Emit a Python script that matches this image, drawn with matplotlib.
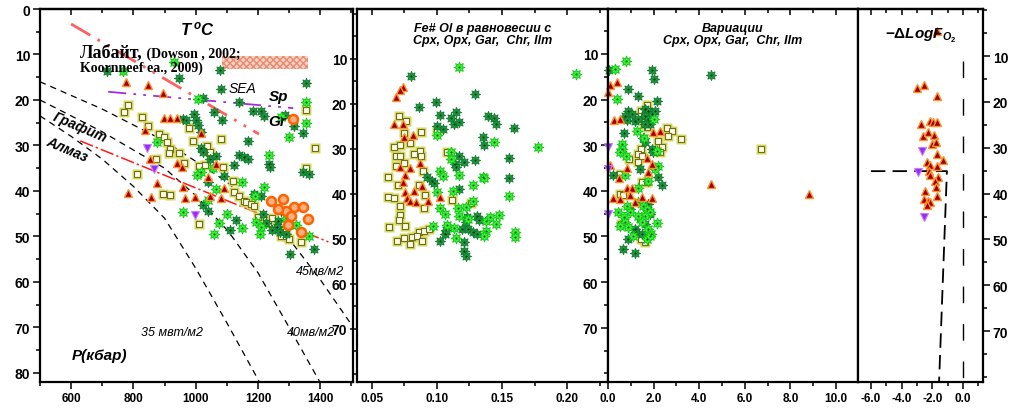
import matplotlib
matplotlib.use("Agg")
import matplotlib.pyplot as plt
import matplotlib.ticker as mticker
from matplotlib.patches import Rectangle

plt.rcParams["font.family"] = ["Liberation Sans", "DejaVu Sans"]
plt.rcParams["mathtext.fontset"] = "custom"
plt.rcParams["mathtext.it"] = "Liberation Sans:italic:bold"
plt.rcParams["mathtext.rm"] = "Liberation Sans:bold"
plt.rcParams["mathtext.bf"] = "Liberation Sans:bold"

# ---------------- panel 1: T (C) vs P (kbar) ----------------
t_dg = [945, 1077, 1081, 1139, 1022, 1058, 1084, 958, 968, 993, 1000, 1006, 1016, 716, 1184, 1210, 1219, 1287,
        1316, 1345, 1355, 1168, 1139, 1155, 1168, 1236, 1239, 1345, 1365, 1016, 1022, 1046, 1065, 1090, 1039,
        1123, 1187, 1210, 1110, 1129, 1265, 1260, 1245, 1270, 1290, 1303, 1381, 1022, 1040, 1215, 1225, 1300, 1275]
p_dg = [15.2, 13.4, 17.6, 20.4, 19.5, 22.6, 24.3, 24.2, 24.4, 23.0, 24.5, 25.6, 27.0, 13.6, 22.4, 22.4, 23.5, 23.4,
        25.7, 27.3, 16.3, 29.0, 32.0, 32.5, 33.0, 34.0, 34.7, 35.9, 36.3, 30.5, 31.5, 33.0, 32.3, 36.7, 38.0,
        34.3, 40.7, 41.0, 48.5, 46.4, 46.5, 48.0, 48.5, 49.0, 49.5, 53.8, 52.7, 43.0, 44.5, 45.0, 47.0, 47.0, 44.5]
t_bg = [929, 1006, 768, 1274, 1300, 1355, 1355, 877, 1236, 1016, 1055, 1065, 1150, 1219, 1190, 958, 1058, 1074,
        1148, 1195, 1210, 1205, 1365, 1322, 1290, 1100, 1005, 1040]
p_bg = [11.7, 19.8, 13.6, 23.7, 28.1, 20.5, 25.1, 29.3, 32.1, 35.9, 35.0, 39.6, 38.0, 39.2, 41.0, 44.7, 49.5, 47.0,
        48.1, 46.8, 48.0, 49.5, 50.0, 47.5, 46.0, 45.0, 36.5, 42.0]
t_sq = [781, 771, 829, 848, 881, 897, 907, 917, 913, 945, 978, 990, 961, 874, 810, 894, 919, 1010, 1081, 1036,
        1046, 1010, 1029, 1087, 1119, 1123, 1139, 1155, 1161, 1177, 1187, 1200, 1232, 1265, 1274, 1290, 1300,
        1339, 1355, 1384, 1355, 1245, 1280]
p_sq = [21.1, 22.7, 23.7, 25.7, 27.5, 28.2, 29.2, 30.8, 31.6, 31.6, 26.2, 29.0, 33.8, 33.0, 36.3, 40.7, 40.9,
        47.3, 28.6, 30.1, 31.4, 34.5, 34.3, 34.7, 37.8, 40.2, 41.1, 42.2, 42.4, 42.9, 43.3, 45.7, 47.0, 48.4,
        49.9, 49.9, 50.5, 51.2, 22.2, 30.5, 35.0, 46.0, 47.0]
t_tri = [777, 848, 894, 897, 916, 939, 836, 1016, 852, 939, 955, 1065, 1039, 877, 958, 1091, 784, 855, 965, 997,
         1045, 1080]
p_tri = [16.0, 16.7, 18.5, 24.0, 24.0, 24.0, 26.6, 27.3, 33.0, 33.9, 34.8, 34.1, 37.0, 38.2, 39.2, 39.4, 40.5,
         41.3, 41.5, 41.3, 41.0, 41.5]
t_inv = [842, 865, 997]
p_inv = [30.5, 35.2, 45.3]
t_circ = [1313, 1242, 1281, 1316, 1345, 1290, 1306, 1361, 1339, 1265, 1297]
p_circ = [24.2, 42.2, 41.8, 43.5, 43.5, 44.4, 45.5, 46.2, 49.0, 44.0, 47.5]

# geotherms and phase boundaries
geo35_t = [500, 600, 700, 800, 900, 1000, 1100, 1203]
geo35_p = [23.5, 28, 33, 39, 46, 57, 69, 81.8]
geo40_t = [500, 700, 900, 1000, 1106, 1200, 1300, 1397]
geo40_p = [20, 27, 35, 41, 49, 58, 70, 81.8]
geo45_t = [500, 700, 900, 1100, 1307, 1400, 1494]
geo45_p = [16, 22, 29, 38, 51.2, 59.5, 68.8]
gd_t = [629, 1426]          # graphite / diamond
gd_p = [29.0, 51.2]
spgr_t = [719, 1313]        # spinel / garnet
spgr_p = [18.2, 21.8]
sea_t = [600, 1203]
sea_p = [3.3, 27.5]

# ---------------- panel 2: Fe# Ol ----------------
f_dg = [0.080, 0.129, 0.086, 0.099, 0.102, 0.111, 0.115, 0.113, 0.117, 0.105, 0.100, 0.135, 0.136, 0.139, 0.144,
        0.145, 0.159, 0.129, 0.121, 0.114, 0.115, 0.117, 0.155, 0.155, 0.092, 0.096, 0.098, 0.117, 0.123, 0.122,
        0.131, 0.132, 0.119, 0.124, 0.128, 0.131, 0.102, 0.106, 0.107, 0.121, 0.121, 0.122]
fp_dg = [13.7, 17.8, 20.6, 19.6, 22.4, 23.1, 21.8, 24.4, 24.0, 25.5, 24.9, 27.3, 29.1, 22.6, 23.2, 24.4, 25.4,
         32.4, 32.9, 33.3, 34.0, 31.5, 32.1, 36.5, 36.2, 37.1, 37.6, 38.9, 45.2, 46.3, 45.0, 45.8, 47.8, 47.8,
         48.5, 48.9, 50.4, 48.9, 48.0, 50.7, 52.7, 53.8]
f_bg = [0.117, 0.207, 0.100, 0.144, 0.178, 0.111, 0.111, 0.102, 0.105, 0.117, 0.135, 0.136, 0.128, 0.100, 0.112,
        0.155, 0.102, 0.106, 0.116, 0.122, 0.128, 0.117, 0.124, 0.138, 0.141, 0.148, 0.145, 0.108, 0.097, 0.138,
        0.136, 0.160, 0.160, 0.115, 0.113]
fp_bg = [11.8, 13.3, 27.0, 28.4, 29.6, 30.7, 32.2, 34.9, 36.0, 35.8, 36.3, 36.5, 38.0, 39.5, 39.3, 40.5, 43.1,
         44.4, 43.2, 42.9, 41.5, 45.0, 45.5, 46.0, 45.2, 44.7, 46.7, 46.9, 47.1, 48.2, 49.3, 48.5, 49.6, 49.8, 47.5]
f_sq = [0.0708, 0.0762, 0.100, 0.0746, 0.0877, 0.0669, 0.0715, 0.0792, 0.0869, 0.0823, 0.0877, 0.0685, 0.0716,
        0.1077, 0.0746, 0.0685, 0.0623, 0.0892, 0.070, 0.0862, 0.0908, 0.0623, 0.0669, 0.0715, 0.090, 0.1115,
        0.0715, 0.0708, 0.0754, 0.0631, 0.0862, 0.090, 0.0938, 0.0808, 0.0846, 0.0885, 0.0692, 0.0746, 0.0792, 0.126]
fp_sq = [22.7, 23.8, 26.0, 26.5, 26.3, 29.6, 29.1, 28.7, 30.4, 31.1, 31.6, 31.6, 31.6, 30.7, 33.1, 33.8, 36.2,
         34.9, 38.0, 38.0, 40.2, 40.7, 40.9, 42.7, 43.1, 41.3, 44.7, 45.8, 47.1, 47.3, 48.4, 48.2, 47.8, 49.6,
         49.3, 50.4, 50.4, 49.8, 51.1, 42.0]
f_tri = [0.0738, 0.0716, 0.0685, 0.0669, 0.0738, 0.0746, 0.0815, 0.0869, 0.0716, 0.0792, 0.0754, 0.0738, 0.0885,
         0.0754, 0.0823, 0.0769, 0.0792, 0.0838, 0.0931, 0.1023]
fp_tri = [16.3, 17.0, 18.5, 24.4, 24.4, 27.4, 26.9, 33.1, 34.0, 34.2, 35.8, 37.4, 38.3, 39.5, 39.3, 40.9, 41.5,
          41.8, 41.5, 40.6]

# ---------------- panel 3: variations ----------------
v_dg = [0.04, 1.93, 2.02, 4.52, 0.88, 1.32, 2.15, 0.88, 1.05, 0.75, 0.83, 1.18, 1.32, 1.62, 1.75, 1.93, 2.06,
        1.62, 1.75, 1.84, 1.62, 0.70, 1.54, 1.62, 1.93, 1.97, 2.19, 2.37, 0.22, 1.40, 1.18, 1.23, 0.88, 0.66,
        1.18, 1.62, 1.40, 1.84, 0.96, 1.49, 1.75]
vp_dg = [13.6, 13.6, 15.4, 14.7, 17.6, 19.3, 20.4, 22.4, 23.1, 23.5, 24.4, 24.6, 24.2, 22.0, 22.6, 23.1, 22.4,
         23.5, 24.2, 25.3, 25.3, 27.3, 28.4, 29.2, 30.8, 31.4, 36.9, 38.7, 36.5, 35.2, 48.4, 49.0, 50.5, 52.7,
         53.6, 47.3, 46.2, 45.0, 44.0, 49.5, 42.9]
v_bg = [0.79, 0.31, 0.39, 1.27, 2.02, 0.61, 0.61, 0.53, 0.79, 1.58, 2.15, 2.19, 2.06, 0.75, 1.75, 1.32, 0.44,
        0.83, 0.96, 0.70, 0.75, 0.88, 1.32, 1.54, 1.71, 1.84, 1.62, 1.32, 1.49, 1.75, 1.89, 1.71, 2.15, 1.84,
        1.10, 0.53]
vp_bg = [11.6, 13.2, 19.8, 26.8, 24.2, 29.7, 30.8, 31.6, 32.3, 28.4, 31.2, 34.5, 35.2, 36.5, 37.8, 39.3, 44.6,
         43.3, 44.6, 45.7, 46.8, 47.9, 42.4, 43.3, 44.0, 44.6, 45.5, 45.5, 46.8, 48.4, 49.5, 50.5, 47.0, 49.9,
         49.9, 47.7]
v_sq = [1.71, 1.45, 1.32, 1.58, 1.71, 2.59, 2.80, 2.63, 3.20, 2.19, 2.37, 2.28, 1.45, 1.32, 1.49, 0.92, 1.32,
        0.53, 1.49, 1.71, 0.53, 0.66, 0.57, 1.62, 1.45, 6.70]
vp_sq = [21.1, 22.6, 23.5, 25.3, 26.0, 26.2, 26.8, 27.9, 28.6, 29.0, 30.3, 31.4, 30.8, 31.9, 32.3, 33.1, 33.6,
         36.3, 38.0, 38.0, 40.7, 41.0, 47.3, 51.2, 50.5, 30.8]
v_tri = [0.09, 0.39, 0.0, 0.26, 0.53, 1.97, 2.28, 1.71, 1.93, 0.09, 0.83, 1.75, 0.48, 4.5, 0.83, 1.05, 0.96,
         0.22, 0.53, 1.49, 1.93, 1.18, 8.8]
vp_tri = [16.7, 16.1, 18.3, 24.4, 24.2, 27.0, 26.8, 32.7, 34.1, 34.3, 35.0, 35.8, 37.1, 38.5, 39.4, 39.4, 41.0,
          41.5, 41.9, 41.3, 41.5, 42.4, 40.7]
v_inv = [0.0, 0.0, 0.0]
vp_inv = [30.5, 35.2, 45.0]

# ---------------- panel 4: -dLogfO2 ----------------
o_tri = [-3.0, -2.54, -1.69, -2.74, -2.15, -1.95, -1.69, -2.61, -2.28, -1.89, -2.02, -1.76, -1.69, -1.30, -2.35,
         -2.15, -1.69, -1.63, -2.22, -2.15, -1.82, -1.76, -2.48, -1.69, -2.54, -2.28, -2.15, -2.35, -1.69]
op_tri = [17.0, 16.3, 18.7, 24.8, 24.2, 24.4, 24.4, 27.4, 26.6, 27.2, 29.2, 28.7, 31.4, 32.7, 33.1, 33.8, 34.0,
          36.4, 35.1, 35.9, 37.2, 38.6, 39.4, 40.5, 41.2, 41.6, 41.9, 42.5, 4.5]
o_inv = [-2.67, -2.93, -2.54]
op_inv = [30.7, 35.3, 45.2]
qfm_x = [0.0, 0.0]
qfm_p = [11.0, 81.1]
ref_x = [-6.0, -1.05, -1.56]
ref_p = [35.1, 35.1, 81.0]

W, H = 1013, 410
fig = plt.figure(figsize=(W / 100, H / 100), dpi=100)


def px_axes(x0, x1, y0=10, y1=383):
    return fig.add_axes([x0 / W, 1 - y1 / H, (x1 - x0) / W, (y1 - y0) / H])


def stars(ax, x, y, clip=True):
    ax.plot(x, y, ls="none", marker=(8, 1, 0), ms=7.5, mfc="#1f9a3e", mec="#0c7a2c", mew=0.6, clip_on=clip)
    ax.plot(x, y, ls="none", marker="o", ms=1.5, mfc="#062e12", mec="none", clip_on=clip)


def bstars(ax, x, y, clip=True):
    ax.plot(x, y, ls="none", marker=(8, 1, 0), ms=8, mfc="#3cf03c", mec="#12c812", mew=0.6, clip_on=clip)
    ax.plot(x, y, ls="none", marker="o", ms=1.5, mfc="#0a5a14", mec="none", clip_on=clip)


def squares(ax, x, y, clip=True):
    ax.plot(x, y, ls="none", marker="s", ms=6.5, mfc="#d8d860", mec="none", clip_on=clip)
    ax.plot(x, y, ls="none", marker="s", ms=4, mfc="#fbfbe8", mec="#6f6f18", mew=0.8, clip_on=clip)


def triangles(ax, x, y, clip=True):
    ax.plot(x, y, ls="none", marker="^", ms=6, mfc="#9c0000", mec="#ff922e", mew=1.0, clip_on=clip)


def inv_triangles(ax, x, y, clip=True):
    ax.plot(x, y, ls="none", marker="v", ms=6, mfc="#9a2cf0", mec="#c77cff", mew=0.8, clip_on=clip)


def style_axes(ax, side="left"):
    for sp in ax.spines.values():
        sp.set_linewidth(1.6)
    ax.tick_params(which="both", direction="out", width=1.1, labelsize=8.5, pad=2,
                   top=False, right=False)
    ax.tick_params(which="major", length=5)
    ax.tick_params(which="minor", length=3)
    ax.tick_params(axis="y", labelsize=10)
    if side == "right":
        ax.tick_params(axis="y", which="both", left=False, right=True, labelleft=False, labelright=True)
    for lab in ax.get_xticklabels() + ax.get_yticklabels():
        lab.set_fontweight("bold")
    # ticks along the top frame point inward
    top = ax.secondary_xaxis("top")
    top.set_xticks(ax.get_xticks())
    top.xaxis.set_minor_locator(ax.xaxis.get_minor_locator())
    top.tick_params(which="both", direction="in", labeltop=False, width=1.1)
    top.tick_params(which="major", length=4)
    top.tick_params(which="minor", length=3)
    top.spines["top"].set_linewidth(1.6)


# ---------------- panel 1 ----------------
ax1 = px_axes(40, 353)
ax1.set_xlim(500, 1505)
ax1.set_ylim(82, 0)
ax1.plot(geo35_t, geo35_p, color="black", lw=0.9, ls=(0, (5, 4)))
ax1.plot(geo40_t, geo40_p, color="black", lw=0.9, ls=(0, (5, 4)))
ax1.plot(geo45_t, geo45_p, color="black", lw=0.9, ls=(0, (5, 4)))
ax1.plot(gd_t, gd_p, color="#ff1a1a", lw=1.1, ls=(0, (9, 2, 1.5, 2)))
ax1.plot(spgr_t, spgr_p, color="#a12fd8", lw=1.3, ls=(0, (10, 4, 1.5, 4, 1.5, 4)))
ax1.plot(sea_t, sea_p, color="#ff6060", lw=2.0, ls=(0, (8, 3, 1, 3, 1, 3)))
ax1.add_patch(Rectangle((1084, 10.3), 277, 2.9, facecolor="#f6d2c2", edgecolor="#e88a70",
                        hatch="xxxxx", lw=0))
squares(ax1, t_sq, p_sq)
stars(ax1, t_dg, p_dg)
bstars(ax1, t_bg, p_bg)
triangles(ax1, t_tri, p_tri)
inv_triangles(ax1, t_inv, p_inv)
ax1.plot(t_circ, p_circ, ls="none", marker="o", ms=6.5, mfc="#ffb080", mec="#ff6200", mew=1.8)

ax1.set_xticks([600, 800, 1000, 1200, 1400])
ax1.xaxis.set_minor_locator(mticker.MultipleLocator(100))
ax1.yaxis.set_major_locator(mticker.MultipleLocator(10))
ax1.yaxis.set_minor_locator(mticker.MultipleLocator(5))
ax1.xaxis.set_major_formatter(mticker.FormatStrFormatter("%d"))
style_axes(ax1)

ax1.text(1006, 4.2, r"$T^{\,o}C$", fontsize=12, ha="center", va="center")
t1 = ax1.text(629, 10.3, "Лабайт,", family=["Liberation Serif", "DejaVu Serif"], fontweight="bold",
              fontsize=13, ha="left", va="baseline")
ax1.annotate(" (Dowson , 2002;", xy=(1, 0), xycoords=t1, va="bottom", ha="left",
             family=["Liberation Serif", "DejaVu Serif"], fontweight="bold", fontsize=10)
ax1.text(629, 13.6, "Koornneef ea., 2009)", family=["Liberation Serif", "DejaVu Serif"], fontweight="bold",
         fontsize=10, ha="left", va="baseline")
ax1.text(1106, 17.4, "SEA", fontsize=10, style="italic", ha="left", va="center")
ax1.text(1236, 19.1, "Sp", fontsize=11, style="italic", fontweight="bold", ha="left", va="center")
ax1.text(1232, 24.6, "Gr", fontsize=11, style="italic", fontweight="bold", ha="left", va="center")
ax1.text(627, 26, "Графит", fontsize=10, style="italic", fontweight="bold", rotation=-23,
         ha="center", va="center", rotation_mode="anchor")
ax1.text(587, 30.8, "Алмаз", fontsize=10, style="italic", fontweight="bold", rotation=-23,
         ha="center", va="center", rotation_mode="anchor")
ax1.text(823, 71, "35 мвт/м2", fontsize=9, style="italic", ha="left", va="center")
ax1.text(1294, 71, "40мв/м2", fontsize=9, style="italic", ha="left", va="center")
ax1.text(1323, 57.6, "45мв/м2", fontsize=9, style="italic", ha="left", va="center")
ax1.text(603, 76, "P(кбар)", fontsize=11, style="italic", fontweight="bold", ha="left", va="center")

# ---------------- panel 2 ----------------
ax2 = px_axes(357, 608)
ax2.set_xlim(0.0385, 0.2315)
ax2.set_ylim(81.8, -1.1)
squares(ax2, f_sq, fp_sq)
stars(ax2, f_dg, fp_dg)
bstars(ax2, f_bg, fp_bg)
triangles(ax2, f_tri, fp_tri)
ax2.set_xticks([0.05, 0.10, 0.15, 0.20])
ax2.xaxis.set_minor_locator(mticker.MultipleLocator(0.025))
ax2.xaxis.set_major_formatter(mticker.FormatStrFormatter("%.2f"))
ax2.set_yticks([10, 20, 30, 40, 50, 60, 70])
ax2.yaxis.set_minor_locator(mticker.MultipleLocator(5))
style_axes(ax2)
ax2.text(0.5, 0.965, "Fe# Ol в равновесии с\nCpx, Opx, Gar,  Chr, Ilm", transform=ax2.transAxes,
         fontsize=9, style="italic", fontweight="bold", ha="center", va="top", linespacing=1.0)

# ---------------- panel 3 ----------------
ax3 = px_axes(608, 858)
ax3.set_xlim(0, 10.96)
ax3.set_ylim(81.9, 0.15)
squares(ax3, v_sq, vp_sq, clip=False)
stars(ax3, v_dg, vp_dg, clip=False)
bstars(ax3, v_bg, vp_bg, clip=False)
triangles(ax3, v_tri, vp_tri, clip=False)
inv_triangles(ax3, v_inv, vp_inv, clip=False)
ax3.set_xticks([0, 2, 4, 6, 8, 10])
ax3.xaxis.set_minor_locator(mticker.MultipleLocator(1))
ax3.xaxis.set_major_formatter(mticker.FormatStrFormatter("%.1f"))
ax3.set_yticks([10, 20, 30, 40, 50, 60, 70])
ax3.yaxis.set_minor_locator(mticker.MultipleLocator(5))
style_axes(ax3)
ax3.text(0.5, 0.965, "Вариации\nCpx, Opx, Gar,  Chr, Ilm", transform=ax3.transAxes,
         fontsize=9, style="italic", fontweight="bold", ha="center", va="top", linespacing=1.0)

# ---------------- panel 4 ----------------
ax4 = px_axes(858, 983)
ax4.set_xlim(-6.84, 1.3)
ax4.set_ylim(81.1, -0.27)
ax4.plot(qfm_x, qfm_p, color="black", lw=1.0, ls=(0, (12, 15)))
ax4.plot(ref_x, ref_p, color="black", lw=1.3, ls=(0, (8, 4)))
triangles(ax4, o_tri, op_tri)
inv_triangles(ax4, o_inv, op_inv)
ax4.set_xticks([-6, -4, -2, 0])
ax4.xaxis.set_minor_locator(mticker.MultipleLocator(1))
ax4.xaxis.set_major_formatter(mticker.FormatStrFormatter("%.1f"))
ax4.set_yticks([10, 20, 30, 40, 50, 60, 70])
ax4.yaxis.set_minor_locator(mticker.MultipleLocator(5))
style_axes(ax4, side="right")
ax4.text(0.5, 0.93, r"$-\Delta LogF_{O_2}$", transform=ax4.transAxes, fontsize=11,
         ha="center", va="center")

fig.savefig("out.png", dpi=100)
